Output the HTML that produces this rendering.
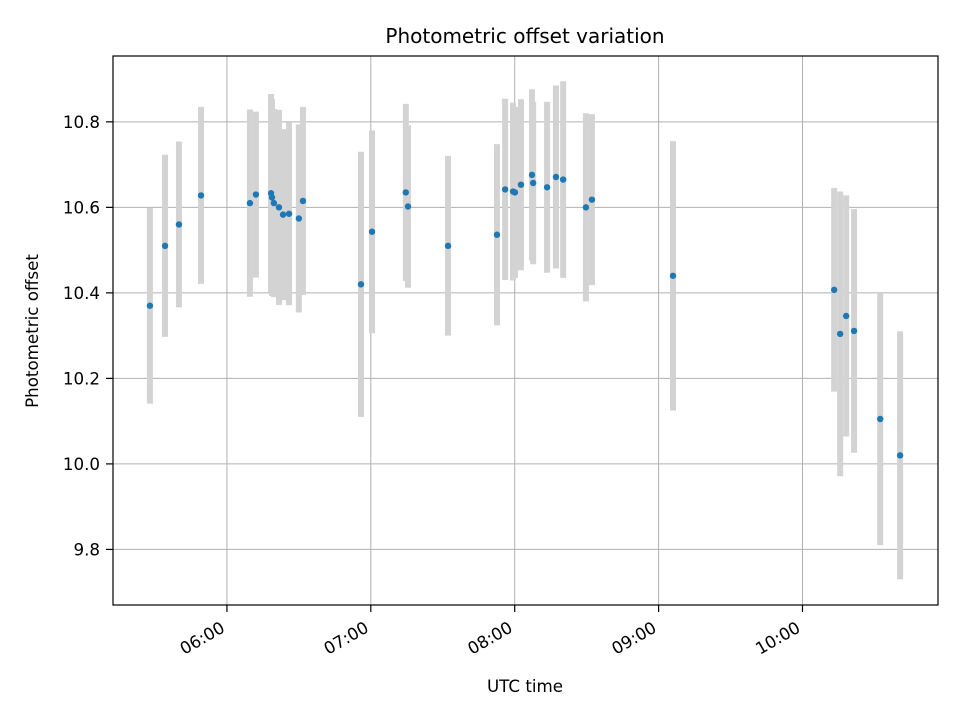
<!DOCTYPE html>
<html><head><meta charset="utf-8"><style>
body{margin:0;background:#fff;}
svg text{font-family:"DejaVu Sans","Liberation Sans",sans-serif;fill:#000;}
</style></head><body>
<svg id="chart" width="960" height="720" xmlns="http://www.w3.org/2000/svg">
<rect width="960" height="720" fill="#fff"/>
<g id="grid"></g>
<g id="bars"></g>
<g id="pts"></g>
<rect x="113" y="56" width="825" height="549" fill="none" stroke="#000" stroke-width="1.2"/>
<g id="axes"></g>
<text x="525" y="43" font-size="20" text-anchor="middle">Photometric offset variation</text>
<text x="525" y="692" font-size="16.7" text-anchor="middle">UTC time</text>
<text x="38" y="331" font-size="16.7" text-anchor="middle" transform="rotate(-90 38 331)">Photometric offset</text>
</svg>
<script>
// minutes after 05:00 UTC
const times=[27.9,34.2,40,49.2,69.6,72.1,78.4,78.8,79.6,81.7,83.4,85.9,90,91.7,115.9,120.5,134.6,135.5,152.2,172.6,176,179.3,180.1,182.6,187.2,187.7,193.5,197.2,200.2,209.7,212.2,246,313.2,315.7,318.2,321.5,332.4,340.7];
const offsets=[10.37,10.51,10.56,10.628,10.61,10.63,10.633,10.623,10.61,10.6,10.583,10.585,10.574,10.615,10.42,10.543,10.635,10.602,10.51,10.536,10.642,10.637,10.635,10.653,10.676,10.657,10.647,10.671,10.665,10.6,10.618,10.44,10.407,10.304,10.346,10.311,10.105,10.02];
const errors=[0.229,0.213,0.194,0.207,0.219,0.194,0.232,0.23,0.22,0.228,0.2,0.214,0.22,0.22,0.31,0.237,0.207,0.19,0.21,0.212,0.212,0.208,0.2,0.2,0.2,0.19,0.2,0.214,0.23,0.22,0.2,0.315,0.238,0.333,0.282,0.285,0.295,0.29];
const xTickMinutes=[60,120,180,240,300];
const xTickLabels=["06:00","07:00","08:00","09:00","10:00"];
const yTicks=[9.8,10.0,10.2,10.4,10.6,10.8];
const yTickLabels=["9.8","10.0","10.2","10.4","10.6","10.8"];

const L=113,R=938,T=56,B=605;
const xMin=12.5,xMax=356.5,yMin=9.670,yMax=10.954;
const X=m=>L+(m-xMin)/(xMax-xMin)*(R-L);
const Y=v=>B-(v-yMin)/(yMax-yMin)*(B-T);
const NS="http://www.w3.org/2000/svg";
function mk(tag,attrs,parent){const e=document.createElementNS(NS,tag);for(const k in attrs)e.setAttribute(k,attrs[k]);parent.appendChild(e);return e;}
const grid=document.getElementById('grid'),axes=document.getElementById('axes'),bars=document.getElementById('bars'),pts=document.getElementById('pts');

xTickMinutes.forEach((m,i)=>{
  const x=X(m);
  const g=mk('line',{x1:x,x2:x,y1:T,y2:B,stroke:'#b0b0b0','stroke-width':1},grid);
  
  
  const t=mk('line',{x1:x,x2:x,y1:B,y2:B+7,stroke:'#000','stroke-width':1.2},axes);
  
  
  const ax=x-1, ay=B+26;
  const tx=mk('text',{x:ax,y:ay,'font-size':16.7,'text-anchor':'end',transform:`rotate(-30 ${ax} ${ay})`},axes);
  tx.textContent=xTickLabels[i];
  
  
});
yTicks.forEach((v,i)=>{
  const y=Y(v);
  const g=mk('line',{x1:L,x2:R,y1:y,y2:y,stroke:'#b0b0b0','stroke-width':1},grid);
  
  
  const t=mk('line',{x1:L-7,x2:L,y1:y,y2:y,stroke:'#000','stroke-width':1.2},axes);
  
  
  const tx=mk('text',{x:L-13,y:y+6,'font-size':16.7,'text-anchor':'end'},axes);
  tx.textContent=yTickLabels[i];
  
  
});
times.forEach((m,i)=>{
  const x=X(m);
  const b=mk('line',{x1:x,x2:x,y1:Y(offsets[i]+errors[i]),y2:Y(offsets[i]-errors[i]),stroke:'#d3d3d3','stroke-width':6},bars);
  
  
  const c=mk('circle',{cx:x,cy:Y(offsets[i]),r:3.2,fill:'#1f77b4'},pts);
  
  
});
</script>
</body></html>
